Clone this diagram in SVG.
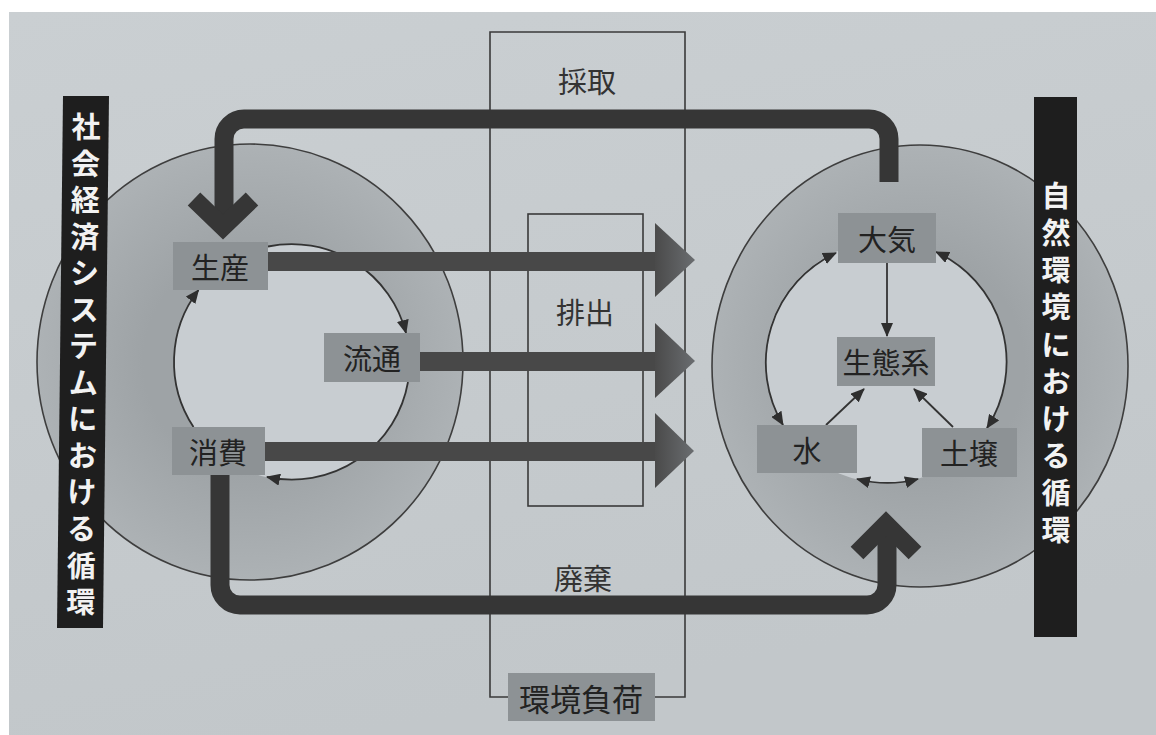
<svg xmlns="http://www.w3.org/2000/svg" width="1156" height="735" viewBox="0 0 1156 735">
<defs>
<style>
.box{fill:#8d9295;}
.lbl{font-family:"Noto Sans CJK JP","Noto Sans CJK SC",sans-serif;font-size:29px;fill:#222222;text-anchor:middle;dominant-baseline:central;}
.mid{font-family:"Noto Sans CJK JP","Noto Sans CJK SC",sans-serif;font-size:29px;fill:#333333;text-anchor:middle;dominant-baseline:central;}
.vt{font-family:"Noto Sans CJK JP","Noto Sans CJK SC",sans-serif;font-size:29px;font-weight:bold;fill:#f2f2f2;text-anchor:middle;dominant-baseline:central;}
.frame{fill:none;stroke:#3a3a3a;stroke-width:1.6;}
.thick{fill:none;stroke:#363636;stroke-width:19;}
.chev{fill:none;stroke:#363636;stroke-width:18;stroke-linejoin:miter;stroke-miterlimit:4;}
.thin{fill:none;stroke:#333;stroke-width:1.8;}
.shaft{fill:#484848;}
.head{fill:url(#hg);}
</style>
<linearGradient id="bg" x1="0" y1="0" x2="0.3" y2="1">
<stop offset="0" stop-color="#cacfd2"/>
<stop offset="1" stop-color="#c2c7ca"/>
</linearGradient>
<linearGradient id="hg" x1="0" y1="0" x2="1" y2="0">
<stop offset="0" stop-color="#4a4a4a"/>
<stop offset="1" stop-color="#6a6d70"/>
</linearGradient>
<radialGradient id="ring" cx="0.5" cy="0.5" r="0.5">
<stop offset="0.5" stop-color="#9ea3a6"/>
<stop offset="1" stop-color="#adb2b5"/>
</radialGradient>
<marker id="ah" viewBox="0 0 14 12" refX="13" refY="6" markerWidth="14" markerHeight="12" markerUnits="userSpaceOnUse" orient="auto-start-reverse">
<path d="M0,0 L14,6 L0,12 z" fill="#2e2e2e"/>
</marker>
</defs>
<rect x="0" y="0" width="1156" height="735" fill="#ffffff"/>
<rect x="9" y="12" width="1147" height="723" fill="url(#bg)"/>

<g id="social-circle">
<ellipse cx="250" cy="362" rx="213" ry="218" fill="url(#ring)" stroke="#3e3e3e" stroke-width="1.6"/>
<circle cx="292" cy="362" r="118" fill="#c8cdd1"/>
</g>
<g id="nature-circle">
<ellipse cx="920" cy="366" rx="208" ry="221" fill="url(#ring)" stroke="#3e3e3e" stroke-width="1.6"/>
<circle cx="886" cy="362" r="121" fill="#c8cdd1"/>
</g>

<g id="load-column">
<polyline class="frame" points="508,697 490,697 490,32 685,32 685,697 655,697"/>
</g>
<g id="emission-box">
<rect class="frame" x="528" y="214" width="115" height="292"/>
</g>

<g id="connectors">
<path class="thin" d="M268,246.5 A118,118 0 0 1 406,333" marker-end="url(#ah)"/>
<path class="thin" d="M408,382 A118,118 0 0 1 267,477" marker-end="url(#ah)"/>
<path class="thin" d="M193.5,427 A118,118 0 0 1 198.5,290" marker-end="url(#ah)"/>
<path class="thin" d="M836,253 A121,121 0 0 0 783,425" marker-start="url(#ah)" marker-end="url(#ah)"/>
<path class="thin" d="M936,252 A121,121 0 0 1 987,428" marker-start="url(#ah)" marker-end="url(#ah)"/>
<path class="thin" d="M857,479 A121,121 0 0 0 918,479" marker-start="url(#ah)" marker-end="url(#ah)"/>
<path class="thin" d="M887,263 L887,336" marker-end="url(#ah)"/>
<path class="thin" d="M826,425 L864,389" marker-end="url(#ah)"/>
<path class="thin" d="M953,427 L914,389" marker-end="url(#ah)"/>

<rect class="shaft" x="268" y="252" width="388" height="19"/>
<polygon class="head" points="655,223 695,260 655,297"/>
<rect class="shaft" x="420" y="352" width="236" height="19"/>
<polygon class="head" points="655,323 695,361 655,398"/>
<rect class="shaft" x="265" y="442" width="391" height="19"/>
<polygon class="head" points="655,413 694,451 655,488"/>

<path class="thick" d="M889,182 V139 A20,20 0 0 0 869,119 H244 A20,20 0 0 0 224,139 V222"/>
<polyline class="chev" points="194,199 223,227 252,199"/>
<path class="thick" d="M220,475 V585 A20,20 0 0 0 240,605 H867 A20,20 0 0 0 887,585 V530"/>
<polyline class="chev" points="857,553 886,524 915,553"/>
</g>

<g id="n-seisan"><rect class="box" x="173" y="242" width="95" height="48"/><text class="lbl" x="220" y="266">生産</text></g>
<g id="n-ryutsu"><rect class="box" x="324" y="333" width="96" height="49"/><text class="lbl" x="372" y="357">流通</text></g>
<g id="n-shohi"><rect class="box" x="172" y="427" width="93" height="48"/><text class="lbl" x="218" y="451">消費</text></g>
<g id="n-taiki"><rect class="box" x="838" y="213" width="98" height="50"/><text class="lbl" x="887" y="238">大気</text></g>
<g id="n-seitaikei"><rect class="box" x="837" y="337" width="98" height="49"/><text class="lbl" x="886" y="361">生態系</text></g>
<g id="n-mizu"><rect class="box" x="757" y="425" width="100" height="48"/><text class="lbl" x="807" y="449">水</text></g>
<g id="n-dojo"><rect class="box" x="922" y="428" width="95" height="49"/><text class="lbl" x="969" y="452">土壌</text></g>

<g id="t-saishu"><text class="mid" x="587" y="80">採取</text></g>
<g id="t-haishutsu"><text class="mid" x="585" y="311">排出</text></g>
<g id="t-haiki"><text class="mid" x="583" y="577">廃棄</text></g>
<g id="n-kankyofuka"><rect class="box" x="508" y="673" width="147" height="48"/><text class="lbl" x="581" y="697" style="font-size:31px">環境負荷</text></g>

<g id="label-social">
<polygon points="63,96 109,96 103,628 57,628" fill="#1e1e1e"/>
<text class="vt"><tspan x="86" y="125">社</tspan><tspan x="85.6" y="161.5">会</tspan><tspan x="85.2" y="198">経</tspan><tspan x="84.8" y="234.6">済</tspan><tspan x="84.4" y="271">シ</tspan><tspan x="84" y="307.7">ス</tspan><tspan x="83.6" y="344">テ</tspan><tspan x="83.2" y="380.8">ム</tspan><tspan x="82.8" y="417">に</tspan><tspan x="82.4" y="453.8">お</tspan><tspan x="82" y="490">け</tspan><tspan x="81.6" y="527">る</tspan><tspan x="81.2" y="563.5">循</tspan><tspan x="80.8" y="600">環</tspan></text>
</g>
<g id="label-nature">
<rect x="1034" y="97" width="43" height="540" fill="#1e1e1e"/>
<text class="vt"><tspan x="1056" y="194">自</tspan><tspan x="1056" y="231">然</tspan><tspan x="1056" y="268">環</tspan><tspan x="1056" y="305">境</tspan><tspan x="1056" y="343">に</tspan><tspan x="1056" y="380">お</tspan><tspan x="1056" y="417">け</tspan><tspan x="1056" y="454">る</tspan><tspan x="1056" y="491">循</tspan><tspan x="1056" y="528">環</tspan></text>
</g>
</svg>
